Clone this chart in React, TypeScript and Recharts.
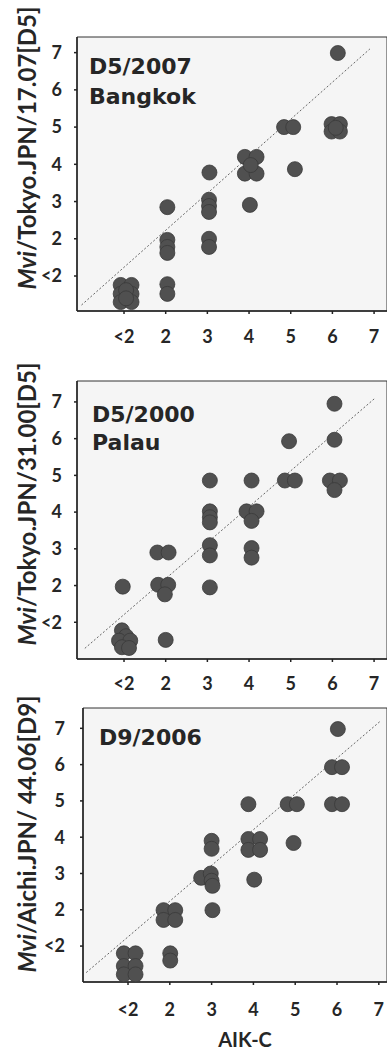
import {
  CartesianGrid,
  ReferenceArea,
  ReferenceLine,
  Scatter,
  ScatterChart,
  XAxis,
  YAxis,
} from "recharts";

type Pt = { x: number; y: number };

// axis positions: 1 stands for "<2"
const TICKS = [1, 2, 3, 4, 5, 6, 7];
const TICK_LABELS = ["<2", "2", "3", "4", "5", "6", "7"];

const BANGKOK: Pt[] = [
  { x: 6.13, y: 6.99 },
  { x: 4.84, y: 5.0 }, { x: 5.06, y: 5.0 },
  { x: 5.98, y: 5.08 }, { x: 6.18, y: 5.08 }, { x: 5.98, y: 4.88 }, { x: 6.18, y: 4.88 }, { x: 6.08, y: 4.98 },
  { x: 5.1, y: 3.87 },
  { x: 3.9, y: 4.2 }, { x: 4.18, y: 4.2 }, { x: 3.9, y: 3.75 }, { x: 4.18, y: 3.75 }, { x: 4.04, y: 3.98 },
  { x: 3.05, y: 3.78 },
  { x: 4.02, y: 2.91 },
  { x: 3.04, y: 3.05 }, { x: 3.04, y: 2.88 }, { x: 3.04, y: 2.72 },
  { x: 3.04, y: 2.0 }, { x: 3.04, y: 1.78 },
  { x: 2.04, y: 2.85 },
  { x: 2.04, y: 1.97 }, { x: 2.04, y: 1.78 }, { x: 2.04, y: 1.62 },
  { x: 2.04, y: 0.78 }, { x: 2.04, y: 0.52 },
  { x: 0.92, y: 0.76 }, { x: 1.18, y: 0.76 }, { x: 0.92, y: 0.52 }, { x: 1.18, y: 0.52 },
  { x: 0.92, y: 0.3 }, { x: 1.18, y: 0.3 }, { x: 1.05, y: 0.62 }, { x: 1.05, y: 0.4 },
];

const PALAU: Pt[] = [
  { x: 6.05, y: 6.95 },
  { x: 4.96, y: 5.93 }, { x: 6.05, y: 5.97 },
  { x: 3.06, y: 4.86 }, { x: 4.06, y: 4.86 },
  { x: 4.86, y: 4.86 }, { x: 5.1, y: 4.86 },
  { x: 5.94, y: 4.86 }, { x: 6.18, y: 4.86 }, { x: 6.05, y: 4.6 },
  { x: 3.06, y: 4.02 }, { x: 3.06, y: 3.86 }, { x: 3.06, y: 3.72 },
  { x: 3.94, y: 4.02 }, { x: 4.18, y: 4.02 }, { x: 4.06, y: 3.76 },
  { x: 3.06, y: 3.1 }, { x: 3.06, y: 2.82 },
  { x: 4.06, y: 3.02 }, { x: 4.06, y: 2.76 },
  { x: 1.8, y: 2.9 }, { x: 2.07, y: 2.9 },
  { x: 3.06, y: 1.95 },
  { x: 0.97, y: 1.97 },
  { x: 1.82, y: 2.02 }, { x: 2.06, y: 2.02 }, { x: 1.98, y: 1.76 },
  { x: 2.0, y: 0.52 },
  { x: 0.95, y: 0.78 }, { x: 1.05, y: 0.62 }, { x: 0.88, y: 0.5 }, { x: 1.15, y: 0.5 },
  { x: 0.95, y: 0.32 }, { x: 1.12, y: 0.3 },
];

const AICHI: Pt[] = [
  { x: 6.02, y: 6.98 },
  { x: 5.88, y: 5.93 }, { x: 6.12, y: 5.93 },
  { x: 5.88, y: 4.91 }, { x: 6.12, y: 4.91 },
  { x: 4.82, y: 4.91 }, { x: 5.04, y: 4.91 },
  { x: 3.88, y: 4.91 },
  { x: 4.96, y: 3.84 },
  { x: 3.88, y: 3.95 }, { x: 4.16, y: 3.95 }, { x: 3.88, y: 3.65 }, { x: 4.16, y: 3.65 },
  { x: 3.0, y: 3.9 }, { x: 3.0, y: 3.68 },
  { x: 2.75, y: 2.88 }, { x: 2.98, y: 3.0 }, { x: 3.0, y: 2.8 }, { x: 3.02, y: 2.66 },
  { x: 4.02, y: 2.83 },
  { x: 3.02, y: 1.99 },
  { x: 1.85, y: 1.99 }, { x: 2.13, y: 1.99 }, { x: 1.85, y: 1.72 }, { x: 2.13, y: 1.72 },
  { x: 2.01, y: 0.8 }, { x: 2.01, y: 0.6 },
  { x: 0.9, y: 0.8 }, { x: 1.18, y: 0.8 }, { x: 0.9, y: 0.45 }, { x: 1.18, y: 0.45 },
  { x: 0.9, y: 0.22 }, { x: 1.18, y: 0.22 },
];

// identity guide lines
const DIAG_BANGKOK: Pt[] = [{ x: -0.02, y: 0.22 }, { x: 6.9, y: 7.1 }];
const DIAG_PALAU: Pt[] = [{ x: 0.06, y: 0.29 }, { x: 7.02, y: 7.1 }];
const DIAG_AICHI: Pt[] = [{ x: 0.0, y: 0.27 }, { x: 7.03, y: 7.19 }];

const FONT = "Lato, 'DejaVu Sans', sans-serif";
const TITLE_FONT = "'DejaVu Sans', sans-serif";
const INK = "#262626";

const fmt = (v: number) => TICK_LABELS[TICKS.indexOf(v)] ?? String(v);

function Dot(props: any) {
  return <circle cx={props.cx} cy={props.cy} r={7.5} fill="#505050" stroke="#3a3a3a" strokeWidth={0.8} />;
}

type PanelProps = {
  top: number;
  height: number;
  plotTop: number;
  plotBottom: number;
  plotLeft: number;
  xDomain: [number, number];
  yDomain: [number, number];
  xGap: number;
  yGap: number;
  data: Pt[];
  diag: Pt[];
  titles: string[];
  titleX: number;
  titleY: number[];
  yTitle: string;
  yTitleCy: number;
  xTitle?: string;
};

function Panel(p: PanelProps) {
  const w = 387;
  const [virus, ...rest] = p.yTitle.split("/");
  return (
    <div style={{ position: "absolute", top: p.top, left: 0 }}>
      <ScatterChart
        width={w}
        height={p.height}
        margin={{ top: p.plotTop, right: 0, bottom: 0, left: 0 }}
      >
        <CartesianGrid horizontal={false} vertical={false} fill="#f5f5f5" />
        <ReferenceArea
          x1={p.xDomain[0]}
          x2={p.xDomain[1]}
          y1={p.yDomain[0]}
          y2={p.yDomain[1]}
          fill="none"
          stroke="#333"
          strokeWidth={1}
        />
        <XAxis
          type="number"
          dataKey="x"
          domain={p.xDomain}
          ticks={TICKS}
          interval={0}
          allowDataOverflow
          tickFormatter={fmt}
          height={p.height - p.plotBottom}
          tickSize={3}
          tickMargin={p.xGap}
          axisLine={{ stroke: "#222", strokeWidth: 1.5 }}
          tickLine={{ stroke: "#222", strokeWidth: 1.5 }}
          tick={{ fill: INK, fontSize: 18, fontWeight: 700, fontFamily: FONT }}
        />
        <YAxis
          type="number"
          dataKey="y"
          domain={p.yDomain}
          ticks={TICKS}
          interval={0}
          allowDataOverflow
          tickFormatter={fmt}
          width={p.plotLeft}
          tickSize={3}
          tickMargin={p.yGap}
          axisLine={{ stroke: "#222", strokeWidth: 1.5 }}
          tickLine={{ stroke: "#222", strokeWidth: 1.5 }}
          tick={{ fill: INK, fontSize: 18, fontWeight: 700, fontFamily: FONT }}
        />
        <ReferenceLine
          segment={p.diag}
          stroke="#666"
          strokeWidth={1}
          strokeDasharray="2 2"
        />
        <Scatter data={p.data} shape={Dot} isAnimationActive={false} />
        {p.titles.map((t, i) => (
          <text
            key={t}
            x={p.titleX}
            y={p.titleY[i]}
            fill={INK}
            fontSize={22}
            fontWeight={700}
            fontFamily={TITLE_FONT}
          >
            {t}
          </text>
        ))}
        <text
          transform={`translate(26,${p.yTitleCy}) rotate(-90)`}
          textAnchor="middle"
          dominantBaseline="central"
          fill={INK}
          fontSize={24}
          fontWeight={700}
          fontFamily={FONT}
        >
          <tspan fontStyle="italic">{virus}</tspan>
          {"/" + rest.join("/")}
        </text>
        {p.xTitle && (
          <text
            x={245}
            y={357}
            textAnchor="middle"
            fill={INK}
            fontSize={20}
            fontWeight={700}
            fontFamily={FONT}
          >
            {p.xTitle}
          </text>
        )}
      </ScatterChart>
    </div>
  );
}

export default function App() {
  return (
    <div
      style={{
        position: "absolute",
        top: 0,
        left: 0,
        width: 387,
        height: 1051,
        background: "#fff",
        overflow: "hidden",
      }}
    >
      <Panel
        top={0}
        height={352}
        plotTop={37}
        plotBottom={311}
        plotLeft={77}
        xDomain={[-0.128, 7.31]}
        yDomain={[0.06, 7.42]}
        xGap={16}
        yGap={12}
        data={BANGKOK}
        diag={DIAG_BANGKOK}
        titles={["D5/2007", "Bangkok"]}
        titleX={89}
        titleY={[74, 104]}
        yTitle="Mvi/Tokyo.JPN/17.07[D5]"
        yTitleCy={148}
      />
      <Panel
        top={345}
        height={352}
        plotTop={36}
        plotBottom={314}
        plotLeft={77}
        xDomain={[-0.128, 7.31]}
        yDomain={[0.0, 7.57]}
        xGap={15}
        yGap={12}
        data={PALAU}
        diag={DIAG_PALAU}
        titles={["D5/2000", "Palau"]}
        titleX={92}
        titleY={[77, 105]}
        yTitle="Mvi/Tokyo.JPN/31.00[D5]"
        yTitleCy={159}
      />
      <Panel
        top={690}
        height={361}
        plotTop={18}
        plotBottom={292}
        plotLeft={83}
        xDomain={[-0.077, 7.196]}
        yDomain={[0.01, 7.56]}
        xGap={18}
        yGap={15}
        data={AICHI}
        diag={DIAG_AICHI}
        titles={["D9/2006"]}
        titleX={99}
        titleY={[55]}
        yTitle="Mvi/Aichi.JPN/ 44.06[D9]"
        yTitleCy={144}
        xTitle="AIK-C"
      />
    </div>
  );
}
